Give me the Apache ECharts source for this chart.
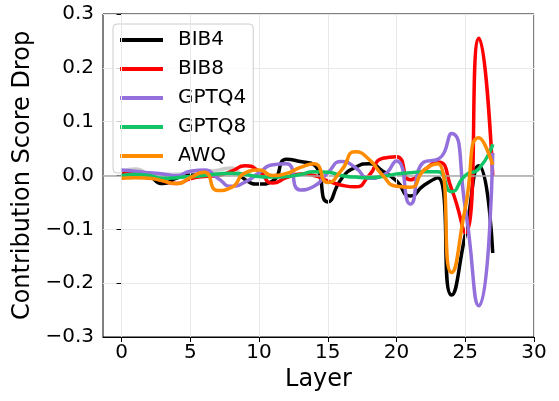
<!DOCTYPE html>
<html>
<head>
<meta charset="utf-8">
<script src="https://cdn.jsdelivr.net/npm/echarts@6/dist/echarts.min.js"></script>
<style>
  html, body { margin: 0; padding: 0; background: #fff; }
  #chart { width: 559px; height: 401px; }
</style>
</head>
<body>
<div id="chart"></div>
<script>
// Layer indices
const layers = [0, 1, 2, 3, 4, 5, 6, 7, 8, 9, 10, 11, 12, 13, 14, 15, 16, 17, 18, 19, 20, 21, 22, 23, 24, 25, 26, 27];

// Contribution score drop per layer for each quantisation method
const bib4  = [0.006, 0.012, 0.0, -0.015, -0.005, 0.002, 0.006, 0.01, 0.014, -0.008, -0.016, -0.01, 0.03, 0.026, 0.02, -0.049, -0.006, 0.015, 0.022, 0.008, -0.01, -0.038, -0.018, -0.004, -0.222, -0.11, 0.018, -0.144];
const bib8  = [0.003, 0.005, 0.0, -0.01, -0.015, -0.006, -0.002, 0.0, 0.008, 0.018, 0.008, -0.014, -0.004, 0.003, 0.0, -0.01, -0.018, -0.021, 0.0, 0.032, 0.035, -0.008, 0.01, 0.025, -0.025, -0.106, 0.255, 0.0];
const gptq4 = [0.01, 0.008, 0.005, 0.003, 0.0, 0.008, 0.01, -0.005, -0.02, -0.012, 0.005, 0.02, 0.022, -0.027, -0.02, 0.005, 0.026, 0.015, -0.005, 0.0, 0.027, -0.053, 0.025, 0.03, 0.078, -0.06, -0.242, 0.042];
const gptq8 = [0.0, 0.002, 0.0, -0.005, -0.004, -0.002, 0.0, 0.003, 0.004, 0.002, -0.002, -0.003, -0.002, 0.002, 0.007, 0.006, 0.0, -0.003, -0.004, -0.002, 0.003, 0.005, 0.007, 0.007, -0.03, 0.0, 0.013, 0.058];
const awq   = [-0.005, -0.004, -0.005, -0.01, -0.015, -0.004, 0.006, -0.028, -0.022, 0.005, 0.01, 0.0, 0.004, 0.015, 0.022, -0.013, 0.01, 0.044, 0.03, 0.0, -0.02, -0.022, 0.01, 0.022, -0.18, -0.06, 0.07, 0.02];

// Axis ticks
const xTicks = [0, 5, 10, 15, 20, 25, 30];
const yTicks = [-0.3, -0.2, -0.1, 0.0, 0.1, 0.2, 0.3];

const seriesDefs = [
  { name: 'BIB4',  values: bib4,  color: '#000000' },
  { name: 'BIB8',  values: bib8,  color: '#ff0000' },
  { name: 'GPTQ4', values: gptq4, color: '#9370db' },
  { name: 'GPTQ8', values: gptq8, color: '#12c466' },
  { name: 'AWQ',   values: awq,   color: '#ff8c00' }
];

const font = 'DejaVu Sans';
const fmtY = v => (Math.abs(v) < 1e-9 ? '0.0' : v.toFixed(1).replace('-', '\u2212'));

const series = seriesDefs.map((s, i) => ({
  name: s.name,
  type: 'line',
  data: layers.map((l, k) => [l, s.values[k]]),
  smooth: 0.6,
  symbol: 'none',
  lineStyle: { color: s.color, width: 3.5 },
  itemStyle: { color: s.color },
  z: 3 + i,
  markLine: i === 0 ? {
    silent: true,
    symbol: 'none',
    label: { show: false },
    lineStyle: { color: '#a8a8a8', width: 1.5, type: 'solid' },
    data: [{ yAxis: 0 }]
  } : undefined
}));

// vertical grid lines at the x tick positions
series.push({
  type: 'line',
  data: [],
  silent: true,
  z: 1,
  markLine: {
    silent: true,
    symbol: 'none',
    label: { show: false },
    lineStyle: { color: '#e8e8e8', width: 1, type: 'solid' },
    data: xTicks.map(t => ({ xAxis: t }))
  }
});

const chart = echarts.init(document.getElementById('chart'), null, { renderer: 'canvas' });
chart.setOption({
  animation: false,
  backgroundColor: '#ffffff',
  textStyle: { fontFamily: font, color: '#000' },
  grid: {
    left: 103, right: 25, top: 14, bottom: 64,
    show: true, borderColor: '#000', borderWidth: 1, backgroundColor: 'transparent'
  },
  legend: {
    orient: 'vertical',
    left: 113, top: 24,
    padding: [6, 7, 7, 7],
    itemGap: 9,
    itemWidth: 43,
    itemHeight: 4,
    icon: 'rect',
    backgroundColor: 'rgba(255,255,255,0.8)',
    borderColor: '#cccccc',
    borderWidth: 1,
    borderRadius: 4,
    textStyle: { fontFamily: font, fontSize: 20, color: '#000', lineHeight: 20, padding: [0, 0, 0, 10] },
    data: seriesDefs.map(s => s.name)
  },
  xAxis: {
    type: 'value',
    min: -1.35,
    max: 30,
    name: 'Layer',
    nameLocation: 'middle',
    nameGap: 31,
    nameTextStyle: { fontFamily: font, fontSize: 24, color: '#000' },
    axisLine: { show: true, onZero: false, lineStyle: { color: '#000', width: 1 } },
    axisTick: { show: true, customValues: xTicks, length: 5, lineStyle: { color: '#000', width: 1 } },
    axisLabel: { customValues: xTicks, fontFamily: font, fontSize: 20, color: '#000', margin: 6 },
    splitLine: { show: false }
  },
  yAxis: {
    type: 'value',
    min: -0.3,
    max: 0.3,
    interval: 0.1,
    name: 'Contribution Score Drop',
    nameLocation: 'middle',
    nameGap: 62,
    nameTextStyle: { fontFamily: font, fontSize: 24, color: '#000' },
    axisLine: { show: true, lineStyle: { color: '#000', width: 1 } },
    axisTick: { show: true, length: 5, lineStyle: { color: '#000', width: 1 } },
    axisLabel: { fontFamily: font, fontSize: 20, color: '#000', margin: 9, formatter: fmtY },
    splitLine: { show: true, lineStyle: { color: '#e8e8e8', width: 1 } }
  },
  series: series
});
</script>
</body>
</html>
